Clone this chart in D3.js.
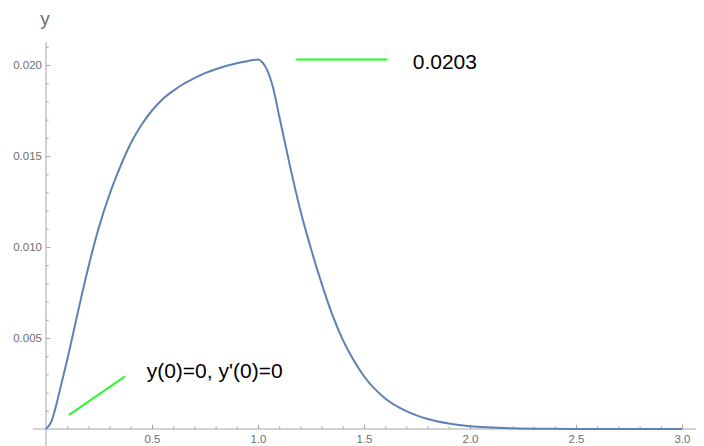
<!DOCTYPE html>
<html>
<head>
<meta charset="utf-8">
<script src="https://cdn.jsdelivr.net/npm/d3@7"></script>
<style>
  body { margin: 0; background: #fff; }
  svg { display: block; font-family: "Liberation Sans", Arial, sans-serif; }
</style>
</head>
<body>
<svg width="704" height="446"></svg>
<script>
// solution curve y(x)
var xs = [0, 0.025, 0.05, 0.075, 0.1, 0.15, 0.2, 0.25, 0.3, 0.35, 0.4, 0.45, 0.5, 0.55, 0.6, 0.65, 0.7, 0.75, 0.8, 0.9, 0.95, 1.0,
          1.02, 1.04, 1.07, 1.1, 1.15, 1.2, 1.25, 1.3, 1.35, 1.4, 1.45, 1.5, 1.6, 1.7, 1.8, 1.9, 2.0,
          2.2, 2.4, 2.6, 2.8, 3.0];
var ys = [0, 0.0004, 0.0014, 0.0026, 0.0038, 0.0064, 0.0089, 0.0111, 0.0129, 0.0144, 0.0157, 0.0167, 0.0175,
          0.01812, 0.01858, 0.01897, 0.01928, 0.01955, 0.01977, 0.0201, 0.02021, 0.0203,
          0.02015, 0.0198, 0.0188, 0.0172, 0.0145, 0.0120, 0.0099, 0.0080, 0.0063, 0.0049, 0.0038,
          0.0029, 0.00168, 0.00098, 0.00055, 0.0003, 0.00015,
          0.00004, 0.00001, 0, 0, 0];

var xMajor = [0.5, 1.0, 1.5, 2.0, 2.5, 3.0];
var yMajor = [0.005, 0.010, 0.015, 0.020];

// annotation segments and labels (data coordinates)
var seg1 = [[1.18, 0.0203], [1.61, 0.0203]];
var seg2 = [[0.108, 0.00077], [0.373, 0.0029]];
var notes = [
  {x: 1.73, y: 0.0198, text: "0.0203"},
  {x: 0.475, y: 0.00279, text: "y(0)=0, y'(0)=0"}
];

var svg = d3.select("svg");

var x = d3.scaleLinear().domain([0, 3]).range([46, 682]),
    y = d3.scaleLinear().domain([0, 0.02]).range([429, 65]);

var axisColor = "#a6a6a6", labelColor = "#6e6e6e";

// axis lines
svg.append("line")
    .attr("x1", x(-0.062)).attr("x2", x(3.065))
    .attr("y1", y(0)).attr("y2", y(0))
    .attr("stroke", axisColor);
svg.append("line")
    .attr("x1", x(0)).attr("x2", x(0))
    .attr("y1", y(0.02127)).attr("y2", y(-0.0011))
    .attr("stroke", axisColor);

var xMinor = d3.range(1, 31).map(function(i) { return i / 10; })
    .filter(function(v) { return Math.abs(v * 2 - Math.round(v * 2)) > 1e-6; });
var yMinor = d3.range(1, 22).map(function(i) { return i / 1000; })
    .filter(function(v) { return Math.abs(v * 200 - Math.round(v * 200)) > 1e-6; });

function styleAxis(g) {
  g.select(".domain").remove();
  g.selectAll("line").attr("stroke", axisColor);
  g.selectAll("text").attr("fill", labelColor).style("font-size", "11.5px")
    .style("font-family", "'Liberation Sans', Arial, sans-serif");
}

svg.append("g")
    .attr("transform", "translate(0," + y(0) + ")")
    .call(d3.axisBottom(x).tickValues(xMinor).tickSize(-2.7).tickFormat(""))
    .call(styleAxis);
svg.append("g")
    .attr("transform", "translate(0," + y(0) + ")")
    .call(d3.axisBottom(x).tickValues(xMajor).tickSize(-4.3).tickPadding(6).tickFormat(d3.format(".1f")))
    .call(styleAxis);

svg.append("g")
    .attr("transform", "translate(" + x(0) + ",0)")
    .call(d3.axisLeft(y).tickValues(yMinor).tickSize(-2.7).tickFormat(""))
    .call(styleAxis);
svg.append("g")
    .attr("transform", "translate(" + x(0) + ",0)")
    .call(d3.axisLeft(y).tickValues(yMajor).tickSize(-4.3).tickPadding(4).tickFormat(d3.format(".3f")))
    .call(styleAxis);

svg.append("text")
    .attr("x", x(0) - 1)
    .attr("y", 25)
    .attr("text-anchor", "middle")
    .attr("fill", labelColor)
    .style("font-size", "19px")
    .text("y");

// curve
var line = d3.line()
    .curve(d3.curveMonotoneX)
    .x(function(d) { return x(d[0]); })
    .y(function(d) { return y(d[1]); });

svg.append("path")
    .datum(d3.zip(xs, ys))
    .attr("fill", "none")
    .attr("stroke", "#5e81b5")
    .attr("stroke-width", 2)
    .attr("d", line);

var seg = d3.line()
    .x(function(d) { return x(d[0]); })
    .y(function(d) { return y(d[1]); });

[seg1, seg2].forEach(function(s) {
  svg.append("path")
      .attr("d", seg(s))
      .attr("stroke", "#1aff1a")
      .attr("stroke-width", 2)
      .attr("fill", "none");
});

svg.selectAll(".note")
    .data(notes)
  .enter().append("text")
    .attr("class", "note")
    .attr("x", function(d) { return x(d.x); })
    .attr("y", function(d) { return y(d.y); })
    .attr("fill", "#000")
    .style("font-size", "21px")
    .text(function(d) { return d.text; });
</script>
</body>
</html>
